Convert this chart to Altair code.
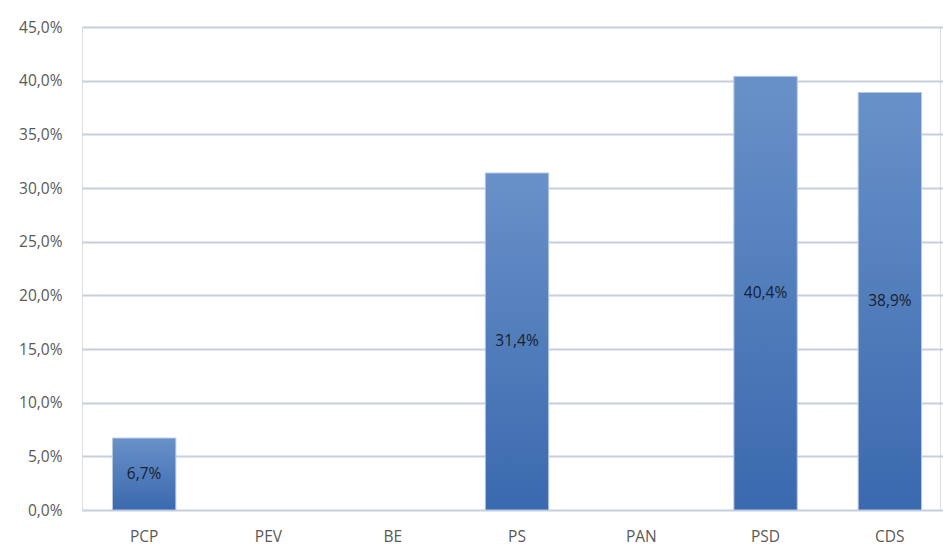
import altair as alt
import pandas as pd

parties = ["PCP", "PEV", "BE", "PS", "PAN", "PSD", "CDS"]
values = [6.7, 0.0, 0.0, 31.4, 0.0, 40.4, 38.9]

df = pd.DataFrame({"party": parties, "value": values})
df["label"] = df["value"].map(lambda v: f"{v:.1f}".replace(".", ",") + "%")

FONT = "Open Sans"

xscale = alt.Scale(domain=parties, paddingInner=0.49, paddingOuter=0.245, range=[0, 870])
yscale = alt.Scale(domain=[0, 45], nice=False)

x = alt.X("party:N", sort=parties, title=None, scale=xscale,
          axis=alt.Axis(labelAngle=0, labelFontSize=15.5, labelColor="#595959",
                        labelFont=FONT, labelPadding=19, ticks=False, domain=False))
y = alt.Y("value:Q", title=None, scale=yscale,
          axis=alt.Axis(values=[0, 5, 10, 15, 20, 25, 30, 35, 40, 45],
                        labelExpr="replace(format(datum.value, '.1f'), '.', ',') + '%'",
                        labelFontSize=15.5, labelColor="#595959", labelFont=FONT,
                        labelPadding=20, ticks=False, domain=False,
                        grid=True, gridColor="#c5cfdd", gridWidth=2))

grad = alt.Gradient(gradient="linear",
                    stops=[alt.GradientStop(color="#6991c9", offset=0),
                           alt.GradientStop(color="#3a69ae", offset=1)],
                    x1=0, x2=0, y1=0, y2=1)

nonzero = alt.datum.value > 0

bars = alt.Chart(df).transform_filter(nonzero).mark_bar(
    color=grad, stroke="#b7c8e2", strokeWidth=1
).encode(x=x, y=y)

labels = alt.Chart(df).transform_filter(nonzero).transform_calculate(
    value="datum.value / 2"
).mark_text(fontSize=15.5, font=FONT, color="#17202e").encode(
    x=alt.X("party:N", sort=parties, title=None, scale=xscale),
    y=alt.Y("value:Q", title=None, scale=yscale),
    text="label:N",
)

chart = alt.layer(bars, labels).properties(
    width=858, height=483,
    autosize=alt.AutoSizeParams(type="none"),
    padding={"left": 82, "top": 27, "right": 3, "bottom": 36},
).configure_view(strokeWidth=0).configure_axis(
    domain=False, ticks=False
).configure(background="white")

chart.save("out.html", embed_options={"renderer": "svg", "actions": False})
